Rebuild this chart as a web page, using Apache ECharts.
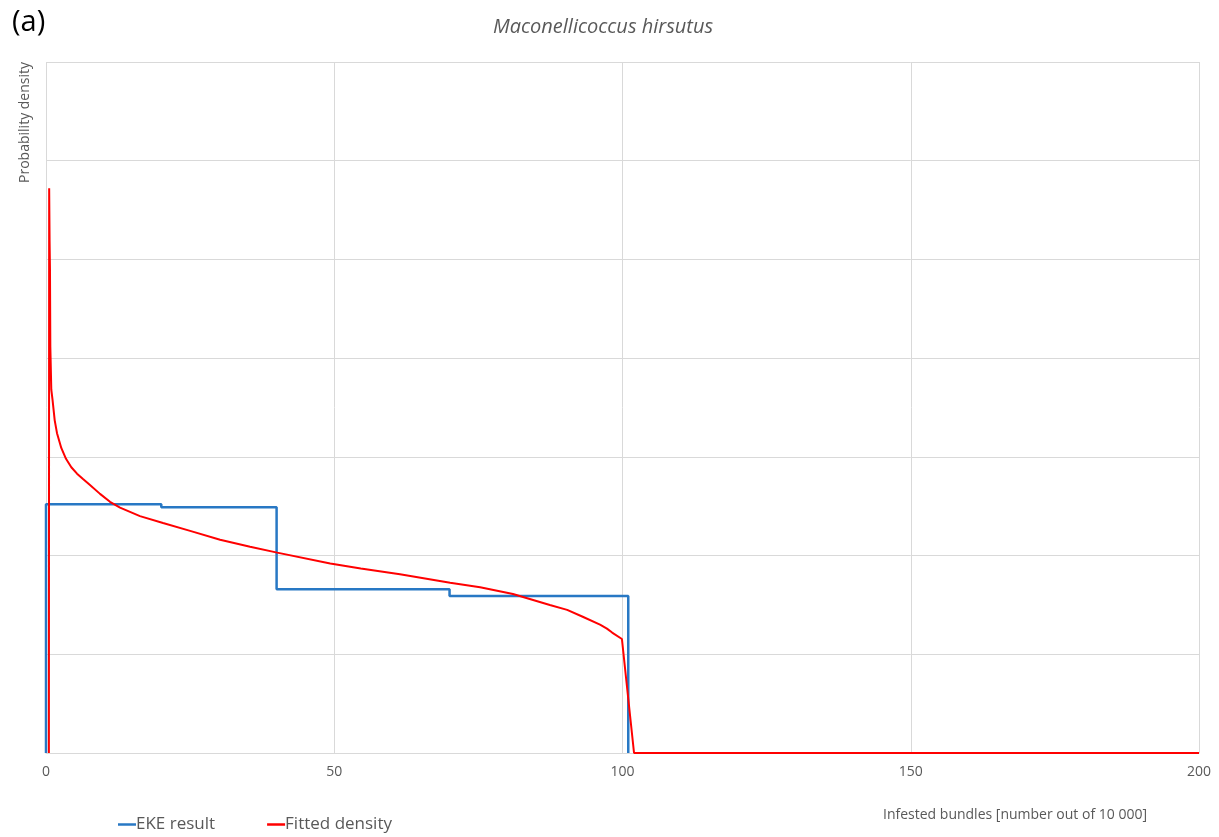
<!DOCTYPE html>
<html>
<head>
<meta charset="utf-8">
<script src="https://cdn.jsdelivr.net/npm/echarts@6/dist/echarts.min.js"></script>
<style>
html,body{margin:0;padding:0;background:#fff;}
#chart{width:1219px;height:837px;}
</style>
</head>
<body>
<div id="chart"></div>
<script>
// x ticks
const xTicks = [0, 50, 100, 150, 200];
// EKE result (step corners): [x, density]
const ekeX = [0, 0, 20, 20, 40, 40, 70, 70, 101, 101];
const ekeY = [0, 2.52, 2.52, 2.49, 2.49, 1.66, 1.66, 1.59, 1.59, 0];
// Fitted density
const fitX = [0.5, 0.55, 0.62, 0.69, 0.75, 0.92, 1.13, 1.51, 1.91, 2.65, 3.47, 4.39, 5.38, 6.42, 7.63, 9.37, 11.1, 12.84, 16.3, 20.3, 25.0, 30.2, 35.4, 40.1, 49.3, 54.6, 61.4, 70.1, 75.3, 81.0, 87.4, 90.4, 93.1, 96.1, 97.3, 98.2, 99.9, 102, 200];
const fitY = [0, 5.72, 5.2, 4.89, 4.12, 3.68, 3.58, 3.37, 3.24, 3.09, 2.98, 2.895, 2.83, 2.775, 2.715, 2.625, 2.545, 2.485, 2.40, 2.33, 2.25, 2.16, 2.09, 2.03, 1.92, 1.87, 1.81, 1.725, 1.68, 1.61, 1.50, 1.45, 1.38, 1.30, 1.26, 1.22, 1.155, 0, 0];

const font = '"Open Sans", "Liberation Sans", sans-serif';
const grey = '#595959';

const chart = echarts.init(document.getElementById('chart'));
chart.setOption({
  animation: false,
  backgroundColor: '#fff',
  title: [
    {text: 'Maconellicoccus hirsutus', left: 598, top: 12, textAlign: 'center',
     textStyle: {fontFamily: font, fontStyle: 'italic', fontWeight: 'normal', fontSize: 20, color: grey}},
    {text: '(a)', left: 7, top: 3,
     textStyle: {fontFamily: font, fontWeight: 'normal', fontSize: 29, color: '#000'}}
  ],
  graphic: [
    {type: 'text', x: 1015, y: 815, style: {text: 'Infested bundles [number out of 10 000]', align: 'center', verticalAlign: 'middle', fontFamily: font, fontSize: 14, fill: grey}},
    {type: 'text', x: 25, y: 62, rotation: Math.PI / 2, style: {text: 'Probability density', align: 'right', verticalAlign: 'middle', fontFamily: font, fontSize: 14, fill: grey}}
  ],
  legend: {
    left: 113, top: 811, itemGap: 52, itemWidth: 18, itemHeight: 2.5, icon: 'rect',
    textStyle: {fontFamily: font, fontSize: 17, color: grey, padding: [0, 0, 0, -5]},
    data: ['EKE result', 'Fitted density']
  },
  grid: {left: 46, right: 20, top: 62, bottom: 84},
  xAxis: {
    type: 'value', min: 0, max: 200, interval: 50,
    axisLine: {show: true, lineStyle: {color: '#d9d9d9', width: 1}},
    axisTick: {show: false},
    axisLabel: {fontFamily: font, fontSize: 14, color: grey, margin: 12,
      formatter: v => xTicks.includes(v) ? String(v) : ''},
    splitLine: {show: true, lineStyle: {color: '#d9d9d9', width: 1}}
  },
  yAxis: {
    type: 'value', min: 0, max: 7, interval: 1,
    axisLine: {show: false}, axisTick: {show: false}, axisLabel: {show: false},
    splitLine: {show: true, lineStyle: {color: '#d9d9d9', width: 1}}
  },
  series: [
    {name: 'EKE result', type: 'line', showSymbol: false, symbol: 'none',
     data: ekeX.map((x, i) => [x, ekeY[i]]),
     lineStyle: {color: '#2878c4', width: 2.5}, itemStyle: {color: '#2878c4'}},
    {name: 'Fitted density', type: 'line', showSymbol: false, symbol: 'none',
     data: fitX.map((x, i) => [x, fitY[i]]), smooth: false,
     lineStyle: {color: '#ff0000', width: 2}, itemStyle: {color: '#ff0000'}}
  ]
});
</script>
</body>
</html>
